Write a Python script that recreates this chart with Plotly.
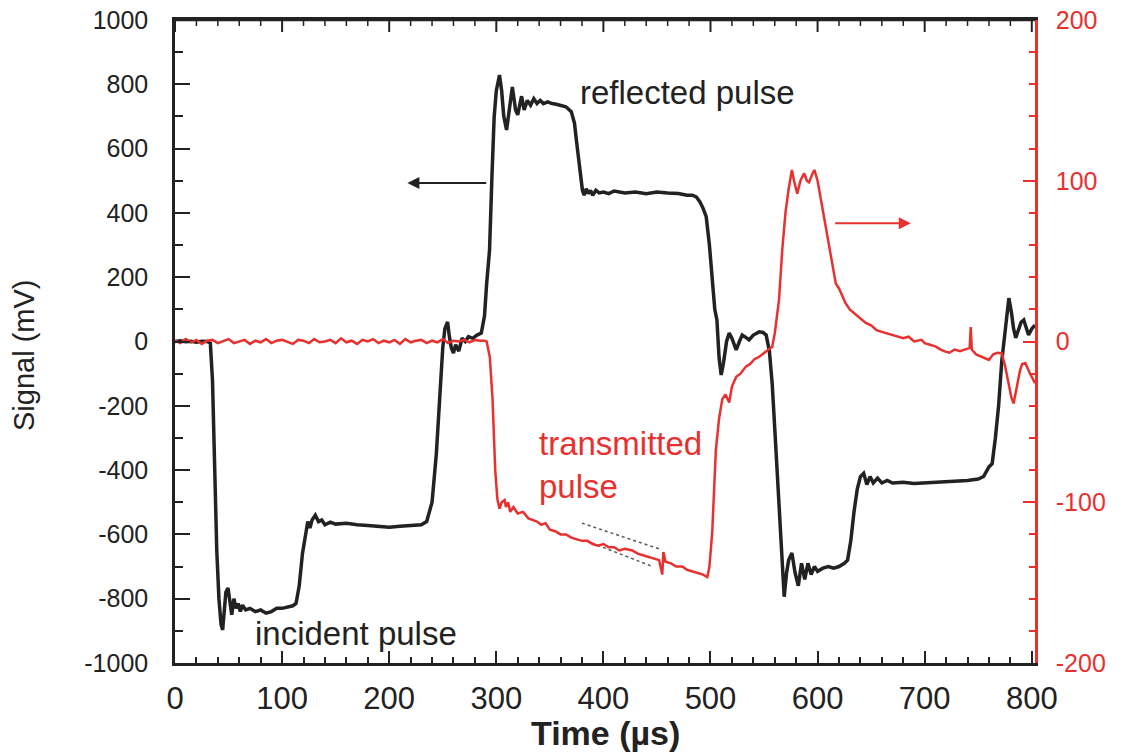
import plotly.graph_objects as go

# ---------------- data ----------------
# Strain-gauge signal on input bar (incident + reflected), left axis, mV
black_t = [0, 5, 10, 15, 20, 25, 30, 33, 35, 37, 39, 41, 43, 44.5, 46, 47.5, 49.5, 51, 53, 55, 57, 59, 61, 63,
           66, 70, 75, 80, 85, 90, 95, 100, 105, 110, 113, 116, 119, 122, 124, 126, 128, 131, 134, 137, 140,
           145, 150, 160, 170, 180, 190, 200, 210, 220, 230, 235, 240, 244, 247, 250, 252, 254.5, 256, 258,
           260, 262, 265, 268, 271, 274, 278, 282, 286, 289, 291, 293.7, 296, 298, 300, 303, 305, 307, 309.6,
           312, 315, 318, 320, 323.6, 326, 329, 332, 335, 338, 341, 344, 348, 352, 356, 360, 365, 370, 373,
           375, 377.6, 380.4, 382, 384, 386, 388, 390, 393, 396, 400, 405, 410, 420, 430, 440, 450, 460, 470,
           478, 483, 486.7, 490, 493, 496, 499, 501.6, 504, 506, 508, 510, 512, 515, 517.5, 520, 524, 527,
           529.6, 532, 536, 540, 545.5, 549, 552, 555, 557.6, 560, 562, 564, 566, 568.8, 571, 573, 576, 579,
           582, 585, 588, 591, 594, 597, 600, 605, 610, 615, 620, 625, 628, 631, 634, 637, 640, 643, 646,
           649, 652, 656, 660, 665, 670, 680, 690, 700, 710, 720, 730, 740, 750, 755, 760, 763, 766, 769,
           772, 774, 776, 778.6, 781, 783, 785, 788, 790, 792.5, 795, 797, 800, 803]
black_v = [0, 2, -1, 1, -2, 1, 0, -5, -120, -400, -650, -800, -880, -897, -840, -780, -767, -810, -850, -800,
           -830, -815, -840, -820, -835, -830, -840, -835, -845, -840, -830, -830, -825, -822, -815, -760, -660,
           -590, -560, -580, -555, -540, -560, -555, -570, -562, -568, -565, -570, -572, -575, -578, -575, -572,
           -570, -560, -500, -350, -180, -20, 40, 61, 20, -20, -36, -10, -30, 10, 0, 15, 10, 20, 26, 80, 180,
           285, 520, 698, 780, 829, 780, 700, 658, 720, 792, 720, 705, 763, 720, 750, 735, 755, 740, 750, 740,
           745, 740, 738, 735, 730, 715, 679, 620, 543, 471, 455, 475, 460, 470, 455, 470, 462, 465, 460, 468,
           462, 465, 460, 465, 462, 460, 455, 455, 450, 435, 415, 388, 300, 182, 100, 67, -50, -104, -70, 0,
           26, 10, -26, 0, 20, 15, 5, 20, 30, 28, 20, -30, -130, -270, -400, -493, -650, -794, -720, -680, -658,
           -720, -760, -690, -740, -690, -725, -700, -715, -705, -700, -705, -700, -690, -680, -620, -530, -460,
           -420, -410, -445, -420, -440, -425, -440, -432, -440, -438, -442, -440, -440, -438, -436, -432, -428,
           -420, -390, -380, -300, -200, -60, 0, 80, 135, 90, 40, 11, 40, 60, 67, 40, 20, 40, 51]

# Strain-gauge signal on output bar (transmitted), right axis, mV
red_t = [0, 5, 10, 15, 20, 25, 30, 35, 40, 45, 50, 55, 60, 65, 70, 75, 80, 85, 90, 95, 100, 105, 110, 115,
         120, 125, 130, 135, 140, 145, 150, 155, 160, 165, 170, 175, 180, 185, 190, 195, 200, 205, 210, 215,
         220, 225, 230, 235, 240, 245, 250, 255, 260, 265, 270, 275, 280, 285, 289, 291, 294, 296.5, 299, 301,
         303, 305, 307.7, 309, 311, 313, 316, 320, 325, 330, 334, 338, 342, 346, 350, 355, 360, 365, 370,
         375, 380, 385, 390, 395, 400, 405, 410, 415, 420, 427, 432, 437, 442, 448, 452, 455, 456, 458, 463,
         468, 473.7, 478, 483, 488, 493, 497, 499, 501.6, 503, 505, 508, 511, 514, 517.5, 520, 524, 528, 533,
         537, 541, 545.5, 550, 554, 557.6, 560, 562, 564, 567, 570, 573, 576, 578, 581, 584, 587.4, 590, 592,
         595, 597, 600, 604, 608, 612, 617, 620, 626, 630, 635, 640, 645, 650, 655, 660, 665, 670, 676, 680,
         685, 690, 697, 700, 705, 710, 715, 718, 723, 728, 733, 738, 742, 743, 744, 748, 752, 756, 760, 764,
         768, 772, 775, 778, 781, 783, 786, 789, 791, 794, 797, 800, 803]
red_v = [0.5, -1, 1.5, -0.5, 1, -1.5, 0.5, 1, -1, 0.5, 1.5, -1, 0, 1, -1.5, 0.5, -0.5, 1.5, -1, 0.5, 1, -0.5,
         -1.5, 1, 0.5, -1, 1.5, -0.5, 0, 1, -1, 2, -0.5, 0.5, -1.5, 1, 0, 1.5, -1, 0.5, -0.5, 1, -1.5, 1.5,
         -0.5, 0.5, 1, -1, 0.5, -0.5, 1.5, -1, 0.5, 0, 1, -0.5, 1, 0.5, 0.5, 0, -10, -36, -80, -98, -104, -100,
         -98.6, -103, -100, -106, -103, -107, -106, -110, -111, -112, -114, -113, -117, -118, -120, -120, -122,
         -123, -124, -124, -126, -127, -126, -128, -128, -130, -129, -130, -132, -133, -134, -135, -136, -145,
         -131, -137, -138, -140, -140, -142, -143, -144, -145, -146.5, -140, -119, -95, -67.5, -48, -36, -33,
         -38, -28, -22, -20, -15.6, -14, -11, -9.5, -7, -5, -3.3, 5, 15, 26, 57, 80, 95, 106.7, 100, 92, 100,
         104.7, 100, 99, 104, 106.7, 100, 85, 71, 55, 36, 33, 24, 20, 17, 14, 11.5, 10, 7, 6, 5, 4, 3, 2, 3, 0,
         1, -1, -2, -3, -5, -6, -7, -5, -6, -5, -4, 9, -5, -8, -9, -10, -11.5, -8, -7, -7.4, -15, -25, -35,
         -38.5, -28, -18, -14, -13.4, -18, -22, -26]

# two dotted guide lines under the transmitted pulse (right axis)
guide1_t = [380, 452]
guide1_v = [-113, -129]
guide2_t = [384, 446]
guide2_v = [-124, -140]

x_ticks = [0, 100, 200, 300, 400, 500, 600, 700, 800]
x_minor_ticks = list(range(20, 801, 20))
y_ticks = [-1000, -800, -600, -400, -200, 0, 200, 400, 600, 800, 1000]
y2_ticks = [-200, -100, 0, 100, 200]
X_RANGE = [0, 803]
Y_RANGE = [-1000, 1000]

RED = "#e8312f"
INK = "#222222"
FONT = "Liberation Sans, Arial, sans-serif"

fig = go.Figure()
fig.add_trace(go.Scatter(x=black_t, y=black_v, mode="lines",
                         line=dict(color=INK, width=3.5), yaxis="y", showlegend=False))
fig.add_trace(go.Scatter(x=guide1_t, y=guide1_v, mode="lines",
                         line=dict(color="#555555", width=1.5, dash="dot"), yaxis="y2", showlegend=False))
fig.add_trace(go.Scatter(x=guide2_t, y=guide2_v, mode="lines",
                         line=dict(color="#555555", width=1.5, dash="dot"), yaxis="y2", showlegend=False))
fig.add_trace(go.Scatter(x=red_t, y=red_v, mode="lines",
                         line=dict(color=RED, width=2.5), yaxis="y2", showlegend=False))
# top frame line (at the top of the y range)
fig.add_trace(go.Scatter(x=X_RANGE, y=[Y_RANGE[1], Y_RANGE[1]], mode="lines", cliponaxis=False,
                         line=dict(color=INK, width=2.5), yaxis="y", showlegend=False, hoverinfo="skip"))
# top ticks
top_tx, top_ty = [], []
for t in x_minor_ticks:
    if t in x_ticks:
        continue
    top_tx += [t, t, None]
    top_ty += [Y_RANGE[1], Y_RANGE[1] - 6 / 0.3215, None]
fig.add_trace(go.Scatter(x=top_tx, y=top_ty, mode="lines", line=dict(color=INK, width=1.5),
                         yaxis="y", showlegend=False, hoverinfo="skip"))
top_mx, top_my = [], []
for t in x_ticks:
    top_mx += [t, t, None]
    top_my += [Y_RANGE[1], Y_RANGE[1] - 12 / 0.3215, None]
fig.add_trace(go.Scatter(x=top_mx, y=top_my, mode="lines", line=dict(color=INK, width=2),
                         yaxis="y", showlegend=False, hoverinfo="skip"))

annotations = [
    dict(x=376, y=776, xref="x", yref="y", text="reflected pulse", showarrow=False,
         xanchor="left", yanchor="middle", font=dict(size=33, color=INK, family=FONT)),
    dict(x=73, y=-907, xref="x", yref="y", text="incident pulse", showarrow=False,
         xanchor="left", yanchor="middle", font=dict(size=33, color=INK, family=FONT)),
    dict(x=338, y=-384, xref="x", yref="y", text="transmitted<br>pulse", showarrow=False,
         xanchor="left", yanchor="middle", align="left", font=dict(size=33, color=RED, family=FONT)),
    # arrows
    dict(x=217, y=493, ax=292, ay=493, xref="x", yref="y", axref="x", ayref="y", text="",
         showarrow=True, arrowhead=2, arrowsize=1.2, arrowwidth=2, arrowcolor=INK),
    dict(x=687, y=368, ax=615, ay=368, xref="x", yref="y", axref="x", ayref="y", text="",
         showarrow=True, arrowhead=2, arrowsize=1.2, arrowwidth=2, arrowcolor=RED),
    # axis titles
    dict(x=-0.1756, y=0.479, xref="paper", yref="paper", text="Signal (mV)", textangle=-90,
         showarrow=False, xanchor="center", yanchor="middle", font=dict(size=29, color=INK, family=FONT)),
    dict(x=0.50, y=-0.109, xref="paper", yref="paper", text="<b>Time (µs)</b>",
         showarrow=False, xanchor="center", yanchor="middle", font=dict(size=34, color=INK, family=FONT)),
]

fig.update_layout(
    width=1125, height=753,
    margin=dict(l=175, r=90, t=20, b=90),
    paper_bgcolor="white", plot_bgcolor="white",
    font=dict(family=FONT, size=22, color=INK),
    annotations=annotations,
    xaxis=dict(range=X_RANGE, tickvals=x_ticks, ticks="inside", ticklen=12, tickwidth=2,
               tickcolor=INK, showline=True, linecolor=INK, linewidth=2.5, mirror=True,
               showgrid=False, zeroline=False, automargin=False,
               minor=dict(dtick=20, ticks="inside", ticklen=6, tickwidth=1.5, tickcolor=INK),
               tickfont=dict(size=31, color=INK), ticklabelstandoff=6),
    yaxis=dict(range=Y_RANGE, tickvals=y_ticks, ticktext=[str(v) for v in y_ticks],
               ticks="inside", ticklen=15, tickwidth=2,
               tickcolor=INK, showline=True, linecolor=INK, linewidth=2.5,
               showgrid=False, zeroline=False, automargin=False,
               minor=dict(dtick=100, ticks="inside", ticklen=8, tickwidth=1.5, tickcolor=INK),
               tickfont=dict(size=25, color=INK), ticklabelstandoff=19),
    yaxis2=dict(range=[-200, 200], tickvals=y2_ticks, ticktext=[str(v) for v in y2_ticks],
                overlaying="y", side="right", automargin=False,
                ticks="inside", ticklen=12, tickwidth=2, tickcolor=RED,
                showline=True, linecolor=RED, linewidth=2.5, showgrid=False, zeroline=False,
                minor=dict(dtick=20, ticks="inside", ticklen=6, tickwidth=1.5, tickcolor=RED),
                tickfont=dict(size=25, color=RED), ticklabelstandoff=13),
)

fig.write_html("out.html", config={"displayModeBar": False},
               post_script="document.body.style.margin='0px';")
